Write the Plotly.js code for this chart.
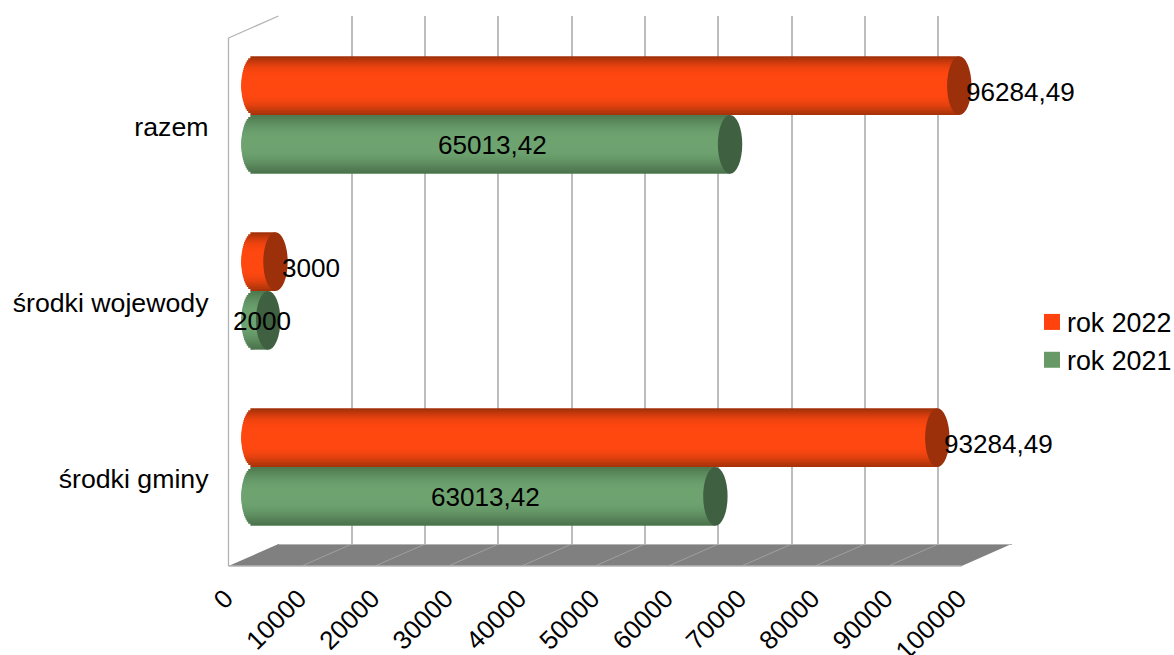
<!DOCTYPE html>
<html><head><meta charset="utf-8">
<script src="https://cdn.plot.ly/plotly-3.0.0.min.js"></script>
<style>html,body{margin:0;padding:0;background:#fff}#c{width:1174px;height:655px}</style>
</head><body><div id="c"></div>
<script>
// ---- data ----
const categories = ["środki gminy", "środki wojewody", "razem"];
const rok2022 = [93284.49, 3000, 96284.49];
const rok2021 = [63013.42, 2000, 65013.42];
const labels2022 = ["93284,49", "3000", "96284,49"];
const labels2021 = ["63013,42", "2000", "65013,42"];
const xTicks = [0,10000,20000,30000,40000,50000,60000,70000,80000,90000,100000];
const nameA = "rok 2022", nameB = "rok 2021";

// ---- styling ----
const W = 1174, H = 655;
const px = x => x / W, py = y => 1 - y / H;
const FONT = "Liberation Sans, Arial, sans-serif";
const GRID = "#b3b3b3", GRID_SOFT = "#bdbdbd";
const front = {x0:228.5, x1:961.7, yTop:38, yBot:566};
const back  = {x0:278.5, x1:1011.5, yTop:16, yBot:544};
const PX_PER_UNIT = (front.x1 - front.x0) / 100000;
const RX = 12.2 / PX_PER_UNIT;        // cap half-width in data units
const SIDE_PAD = 25 / PX_PER_UNIT;    // bar axis zero sits between front and back walls
const TICK_SHIFT = 3;                 // tick labels sit slightly left of the front ticks

// shading across the cylinder, top to bottom
const shadeA = ["#a3320a","#b4360b","#c4390c","#d33d0d","#df400e","#e9420f","#f1440f","#f74510","#fb4610","#fe4710","#ff4711","#ff4811","#ff4811","#ff4811","#ff4811","#ff4811","#ff4811","#ff4811","#ff4811","#ff4711","#fd4710","#fa4610","#f54510","#ee440f","#e6420f","#dc400e","#d03d0d","#c33a0c","#b5370b","#a9340a"];
const shadeB = ["#4d7a4f","#527f54","#578558","#5b8a5d","#5f8f61","#629464","#659867","#689b6a","#6a9e6c","#6ca06e","#6da26f","#6ea370","#6ea370","#6ea370","#6ea370","#6ea370","#6ea370","#6ea370","#6da26f","#6ca06e","#6a9e6c","#689b6a","#659767","#629364","#5f8e60","#5b895c","#578358","#537e54","#4f7950","#4c754d"];
const capA = "#9c300b", capB = "#3f6141";
const legendA = "#ff420e", legendB = "#669966";
const HALF = 1 / 3; // each bar's thickness, in category units

const traces = [];
// invisible trace keeping the back wall grid subplot alive
traces.push({type:"scatter", mode:"markers", x:[0], y:[0], xaxis:"x", yaxis:"y",
  marker:{opacity:0}, showlegend:false, hoverinfo:"skip"});
// invisible trace carrying the front axis categories
traces.push({type:"scatter", mode:"markers", x:categories.map(()=>0), y:categories,
  xaxis:"x2", yaxis:"y2", marker:{opacity:0}, showlegend:false, hoverinfo:"skip"});
// legend entries
traces.push({type:"scatter", mode:"markers", name:nameA, x:[null], y:[null], xaxis:"x2", yaxis:"y2",
  marker:{symbol:"square", size:16, color:legendA}, hoverinfo:"skip"});
traces.push({type:"scatter", mode:"markers", name:nameB, x:[null], y:[null], xaxis:"x2", yaxis:"y2",
  marker:{symbol:"square", size:16, color:legendB}, hoverinfo:"skip"});

function cylinder(values, shades, bottomOffset) {
  const n = shades.length, step = HALF / n, mid = bottomOffset + HALF / 2;
  // painted from the outer edges toward the axis of the cylinder, so neighbours never leave a seam
  const order = [];
  for (let k = 0; k < n / 2; k++) { order.push(k); if (n - 1 - k !== k) order.push(n - 1 - k); }
  order.forEach(i => {
    const t = (i + 0.5) / n * 2 - 1;
    const leftBulge = RX * Math.sqrt(Math.max(0, 1 - t * t));
    const top = bottomOffset + HALF - i * step;
    const bottom = top - step;
    const low = i < n / 2 ? mid : bottom;
    const high = i < n / 2 ? top : mid;
    traces.push({type:"bar", orientation:"h", y:categories,
      x:values.map(v => v + leftBulge), base:-leftBulge,
      offset:low, width:Math.max(high - low, step),
      marker:{color:shades[i], line:{width:0}}, xaxis:"x3", yaxis:"y3",
      showlegend:false, hoverinfo:"skip"});
  });
}
cylinder(rok2021, shadeB, -HALF);
cylinder(rok2022, shadeA, 0);

// floor + wall decorations
const shapes = [];
shapes.push({type:"path", xref:"paper", yref:"paper", layer:"below", line:{width:0}, fillcolor:"#808080",
  path:`M${px(front.x0)},${py(front.yBot)} L${px(back.x0)},${py(back.yBot)} L${px(back.x1)},${py(back.yBot)} L${px(front.x1)},${py(front.yBot)} Z`});
xTicks.forEach(v => {
  const a = front.x0 + v * PX_PER_UNIT, b = back.x0 + v * PX_PER_UNIT;
  if (v > 0 && v < 100000) shapes.push({type:"line", xref:"paper", yref:"paper", layer:"below",
    x0:px(a), y0:py(front.yBot), x1:px(b), y1:py(back.yBot), line:{color:"#a0a0a0", width:1}});
});
const edge = (x0, y0, x1, y1) => shapes.push({type:"line", xref:"paper", yref:"paper", layer:"below",
  x0:px(x0), y0:py(y0), x1:px(x1), y1:py(y1), line:{color:GRID, width:1.3}});
edge(front.x0, front.yTop, back.x0, back.yTop);
edge(front.x0, front.yTop, front.x0, front.yBot);
edge(front.x0, front.yBot, front.x1, front.yBot);

// end caps
function caps(values, col, off) {
  values.forEach((v, i) => shapes.push({type:"circle", xref:"x3", yref:"y3", layer:"above",
    x0:v - RX, x1:v + RX, y0:i + off, y1:i + off + HALF, fillcolor:col, line:{width:0}}));
}
caps(rok2021, capB, -HALF);
caps(rok2022, capA, 0);

// value labels
const annotations = [];
const txt = {family:FONT, size:26.1, color:"#000"};
rok2022.forEach((v, i) => annotations.push({xref:"x3", yref:"y3", x:v, y:i + HALF/2, text:labels2022[i],
  showarrow:false, xanchor:"left", yanchor:"middle", xshift:6, yshift:-6, font:txt, borderpad:0}));
rok2021.forEach((v, i) => annotations.push({xref:"x3", yref:"y3", x:v/2, y:i - HALF/2, text:labels2021[i],
  showarrow:false, xanchor:"center", yanchor:"middle", xshift:1, yshift:-1, font:txt, borderpad:0}));

const layout = {
  width:W, height:H, autosize:false,
  margin:{l:0, r:0, t:0, b:0, pad:0, autoexpand:false},
  paper_bgcolor:"#fff", plot_bgcolor:"rgba(0,0,0,0)",
  font:{family:FONT, size:26, color:"#000"},
  barmode:"overlay", hovermode:false,
  // back wall grid
  xaxis:{domain:[px(back.x0), px(back.x1)], range:[0,100000], tickmode:"array", tickvals:xTicks, showticklabels:false,
    ticks:"", showgrid:true, gridcolor:GRID_SOFT, gridwidth:2, zeroline:false, showline:true, linecolor:GRID, linewidth:1,
    anchor:"y", fixedrange:true},
  yaxis:{domain:[py(back.yBot), py(back.yTop)], range:[0,1], showgrid:false, zeroline:false, showticklabels:false, ticks:"", showline:false, anchor:"x", fixedrange:true},
  // front axis: tick labels
  xaxis2:{domain:[px(front.x0 - TICK_SHIFT), px(front.x1 - TICK_SHIFT)], range:[0,100000], tickvals:xTicks, ticktext:xTicks.map(String),
    tickmode:"array", tickangle:-45, ticks:"", showgrid:false, zeroline:false, showline:false,
    ticklabelstandoff:10, tickfont:{family:FONT, size:26, color:"#000"}, anchor:"y2", fixedrange:true},
  yaxis2:{domain:[py(front.yBot + 1), py(front.yTop + 1)], type:"category", categoryorder:"array", categoryarray:categories,
    range:[-0.5,2.5], ticks:"", showgrid:false, zeroline:false, showline:false,
    ticklabelstandoff:16, tickfont:{family:FONT, size:26.7, color:"#000"}, anchor:"x2", fixedrange:true},
  // cylinder axis
  xaxis3:{domain:[px(front.x0), px(back.x1)], range:[-SIDE_PAD, 100000 + SIDE_PAD], visible:false, anchor:"y3", fixedrange:true},
  yaxis3:{domain:[py(555), py(27)], type:"category", categoryorder:"array", categoryarray:categories,
    range:[-0.5,2.5], visible:false, anchor:"x3", fixedrange:true},
  legend:{x:px(1027), y:py(298), xanchor:"left", yanchor:"top", bgcolor:"rgba(0,0,0,0)", borderwidth:0,
    font:{family:FONT, size:26.8, color:"#000"}, itemsizing:"trace", traceorder:"normal"},
  shapes, annotations
};
Plotly.newPlot("c", traces, layout, {displayModeBar:false, staticPlot:true}).then(() => {
  document.querySelectorAll("#c .legend .legendsymbols").forEach(el => el.setAttribute("transform", "translate(5,0)"));
});
</script></body></html>
